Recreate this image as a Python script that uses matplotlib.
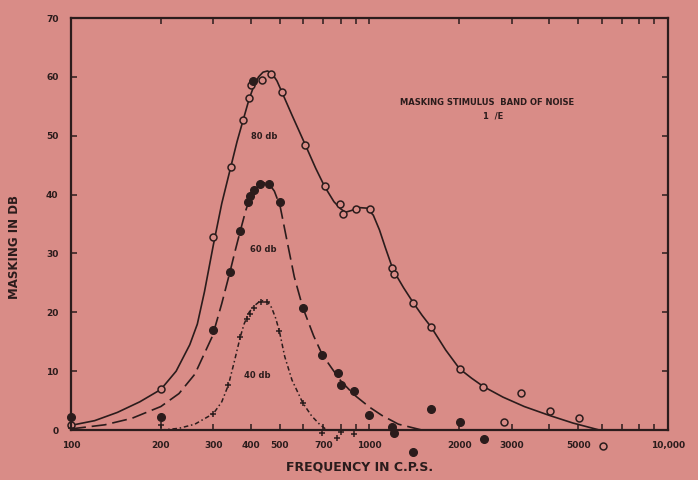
import numpy as np
import matplotlib.pyplot as plt
from matplotlib.ticker import FixedLocator, NullLocator

# masking by a band of noise at three levels
freq_80 = [100, 200, 300, 343, 378, 395, 400, 436, 468, 509, 609, 707, 794, 815,
           904, 1006, 1192, 1211, 1403, 1609, 2004, 2407, 2818, 3222, 4035, 5045, 6066]
mask_80 = [0.9, 6.9, 32.8, 44.7, 52.6, 56.4, 58.6, 59.4, 60.5, 57.4, 48.5, 41.4, 38.4, 36.7,
           37.5, 37.5, 27.6, 26.5, 21.6, 17.5, 10.4, 7.4, 1.3, 6.3, 3.3, 2.1, -2.7]

freq_60 = [100, 200, 298, 341, 369, 391, 398, 407, 411, 431, 461, 502, 598, 695, 785, 800,
           888, 995, 1186, 1211, 1403, 1609, 2013, 2427]
mask_60 = [2.2, 2.2, 17.0, 26.9, 33.8, 38.8, 39.8, 59.3, 40.8, 41.8, 41.8, 38.8, 20.8, 12.8,
           9.7, 7.7, 6.6, 2.5, 0.6, -0.5, -3.8, 3.5, 1.4, -1.5]

freq_40 = [100, 200, 300, 337, 369, 388, 398, 411, 433, 455, 499, 598, 695, 780, 800, 888]
mask_40 = [0.3, 0.9, 2.8, 7.7, 15.8, 18.8, 19.8, 20.8, 21.8, 21.8, 16.8, 4.6, -0.5, -1.4, -0.4, -0.6]

# hand-faired curves through the points
curve80_f = [100, 120, 143, 170, 200, 225, 250, 265, 280, 300, 320, 343, 360, 378, 395, 410,
             425, 440, 455, 470, 490, 509, 550, 609, 660, 707, 760, 800, 830, 870, 920, 980,
             1030, 1080, 1130, 1200, 1300, 1403, 1500, 1609, 1800, 2004, 2200, 2407, 2800,
             3300, 4000, 4800, 5900]
curve80_m = [0.8, 1.6, 3.0, 4.8, 6.9, 10.0, 14.5, 18.0, 23.5, 31.5, 38.5, 44.7, 49.0, 52.8,
             56.2, 58.5, 60.0, 60.8, 61.0, 60.7, 59.3, 57.4, 53.5, 48.5, 44.5, 41.4, 38.8,
             37.6, 37.0, 37.3, 37.8, 37.7, 36.5, 34.0, 31.0, 27.2, 24.2, 21.6, 19.5, 17.5,
             13.6, 10.4, 8.8, 7.4, 5.6, 4.0, 2.5, 1.2, 0.0]

curve60_f = [100, 130, 160, 200, 230, 260, 298, 320, 341, 355, 369, 385, 400, 415, 430, 445,
             461, 480, 502, 530, 560, 598, 650, 695, 750, 800, 888, 1000, 1100, 1250, 1500]
curve60_m = [0.2, 0.9, 2.0, 4.0, 6.2, 9.5, 16.0, 21.5, 26.9, 30.5, 33.8, 37.3, 39.8, 41.0,
             41.7, 42.0, 41.8, 40.6, 38.0, 32.0, 26.0, 20.8, 16.0, 12.8, 10.4, 8.4, 6.0,
             3.9, 2.5, 1.0, 0.0]

curve40_f = [200, 230, 260, 300, 320, 337, 352, 369, 380, 395, 411, 425, 440, 455, 470, 485,
             499, 520, 550, 598, 640, 680, 720, 760, 780, 800, 830]
curve40_m = [0.0, 0.3, 1.0, 2.8, 4.8, 7.7, 11.5, 15.8, 18.0, 20.0, 21.1, 21.7, 22.0, 21.8,
             20.8, 19.0, 16.8, 12.5, 8.5, 4.6, 2.4, 1.0, 0.0, -1.0, -1.4, -0.6, -0.2]

xticks = [100, 200, 300, 400, 500, 600, 700, 800, 900, 1000, 2000, 3000, 4000, 5000,
          6000, 7000, 8000, 9000, 10000]
xlabels = {100: '100', 200: '200', 300: '300', 400: '400', 500: '500', 700: '700',
           1000: '1000', 2000: '2000', 3000: '3000', 5000: '5000', 10000: '10,000'}
yticks = [0, 10, 20, 30, 40, 50, 60, 70]

bg = '#d98c87'
ink = '#2b1c1c'

fig = plt.figure(figsize=(6.98, 4.8), dpi=100, facecolor=bg)
ax = fig.add_axes([0.1017, 0.104, 0.8553, 0.8585])
ax.set_facecolor(bg)
ax.set_xscale('log')
ax.set_xlim(100, 10000)
ax.set_ylim(0, 70)

ax.plot(curve80_f, curve80_m, color=ink, lw=1.2, solid_capstyle='round')
ax.plot(curve60_f, curve60_m, color=ink, lw=1.2, dashes=(9, 3.5))
ax.plot(curve40_f, curve40_m, color=ink, lw=1.1, dashes=(3, 1.8, 1, 1.8))

ax.plot(freq_80, mask_80, 'o', ms=5, mfc=bg, mec=ink, mew=1.1, clip_on=False)
ax.plot(freq_60, mask_60, 'o', ms=5.5, color=ink, clip_on=False)
ax.plot(freq_40, mask_40, '+', ms=5, color=ink, mew=1.1, clip_on=False)

# labels on the curves
txt = dict(color=ink, fontsize=6, fontweight='bold', ha='center', va='center')
ax.text(445, 49.8, '80 db', **txt)
ax.text(440, 30.7, '60 db', **txt)
ax.text(420, 9.3, '40 db', **txt)
ax.text(2480, 55.7, 'MASKING STIMULUS  BAND OF NOISE', **txt)
ax.text(2600, 53.4, '1  /E', **txt)

for s in ax.spines.values():
    s.set_color(ink)
    s.set_linewidth(1.6)

ax.xaxis.set_major_locator(FixedLocator(xticks))
ax.xaxis.set_minor_locator(NullLocator())
ax.set_xticklabels([xlabels.get(t, '') for t in xticks])
ax.set_yticks(yticks)
ax.set_yticklabels([str(t) for t in yticks])
ax.tick_params(direction='in', length=4, width=1.1, color=ink, top=True, right=True,
               labelsize=6.5, labelcolor=ink)
ax.tick_params(axis='x', pad=8)
ax.tick_params(axis='y', pad=9)
for lab in ax.get_xticklabels() + ax.get_yticklabels():
    lab.set_fontweight('bold')

ax.set_xlabel('FREQUENCY IN C.P.S.', fontsize=9, fontweight='bold', color=ink, labelpad=6)
ax.xaxis.set_label_coords(0.484, -0.075)
ax.set_ylabel('MASKING IN DB', fontsize=8.5, fontweight='bold', color=ink)
ax.yaxis.set_label_coords(-0.083, 0.444)

fig.savefig('out.png', dpi=100, facecolor=bg)
